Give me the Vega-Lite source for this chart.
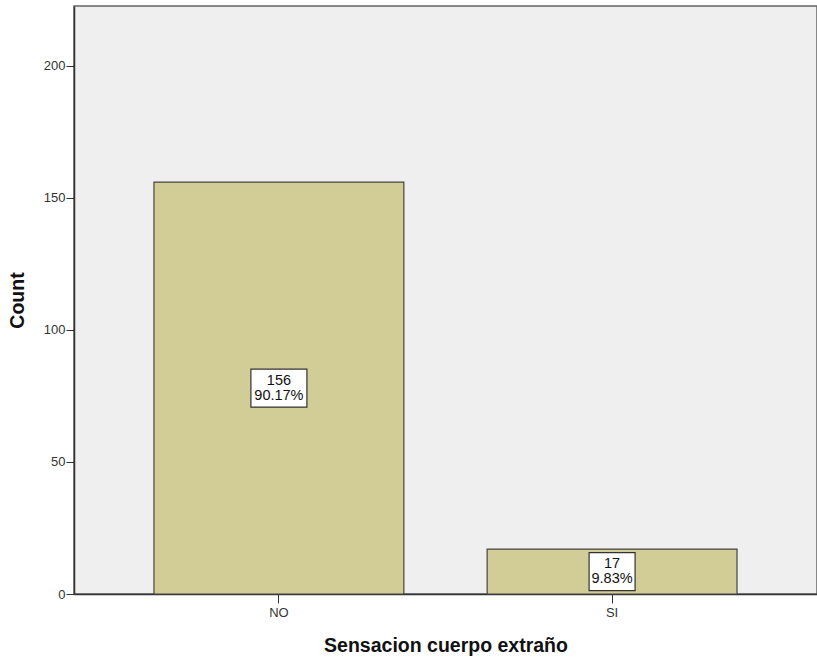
{
  "$schema": "https://vega.github.io/schema/vega-lite/v6.json",
  "width": 743,
  "height": 588,
  "autosize": {"type": "none"},
  "padding": {"left": 74, "top": 6, "right": 0, "bottom": 67},
  "background": "white",
  "config": {
    "view": {"fill": "#efefef", "stroke": "#666666", "strokeWidth": 1.5},
    "font": "Liberation Sans",
    "axis": {
      "labelFont": "Liberation Sans",
      "titleFont": "Liberation Sans",
      "labelFontSize": 13,
      "labelColor": "#333333",
      "titleFontSize": 19.5,
      "titleFontWeight": "bold",
      "titleColor": "#111111",
      "domainColor": "#333333",
      "tickColor": "#333333",
      "grid": false
    }
  },
  "data": {
    "values": [
      {"cat": "NO", "count": 156, "mid": 78, "label": "156\n90.17%"},
      {"cat": "SI", "count": 17, "mid": 8.5, "label": "17\n9.83%"}
    ]
  },
  "encoding": {
    "x": {
      "field": "cat",
      "type": "nominal",
      "sort": ["NO", "SI"],
      "scale": {"paddingInner": 0.25, "paddingOuter": 0.24},
      "axis": {
        "title": "Sensacion cuerpo extraño",
        "labelAngle": 0,
        "tickSize": 9,
        "labelPadding": 3,
        "titlePadding": 17,
        "domainWidth": 1.5
      }
    }
  },
  "layer": [
    {
      "mark": {"type": "bar", "fill": "#d2cd96", "stroke": "#444444", "strokeWidth": 1.2},
      "encoding": {
        "y": {
          "field": "count",
          "type": "quantitative",
          "scale": {"domain": [0, 222.7], "nice": false},
          "axis": {
            "title": "Count",
            "values": [0, 50, 100, 150, 200],
            "tickSize": 8,
            "labelPadding": 1,
            "titlePadding": 16,
            "domainWidth": 1.5
          }
        }
      }
    },
    {
      "mark": {"type": "point", "filled": true, "fill": "white", "stroke": "#333333", "strokeWidth": 1.2, "opacity": 1, "size": 3136},
      "encoding": {
        "y": {"field": "mid", "type": "quantitative"},
        "shape": {
          "field": "cat",
          "type": "nominal",
          "scale": {"domain": ["NO", "SI"], "range": ["M-1,-0.679H1V0.679H-1Z", "M-0.821,-0.679H0.821V0.679H-0.821Z"]},
          "legend": null
        }
      }
    },
    {
      "mark": {"type": "text", "lineBreak": "\n", "fontSize": 14.5, "color": "#111111", "baseline": "middle", "dy": -7.5, "lineHeight": 15},
      "encoding": {
        "y": {"field": "mid", "type": "quantitative"},
        "text": {"field": "label"}
      }
    }
  ]
}
